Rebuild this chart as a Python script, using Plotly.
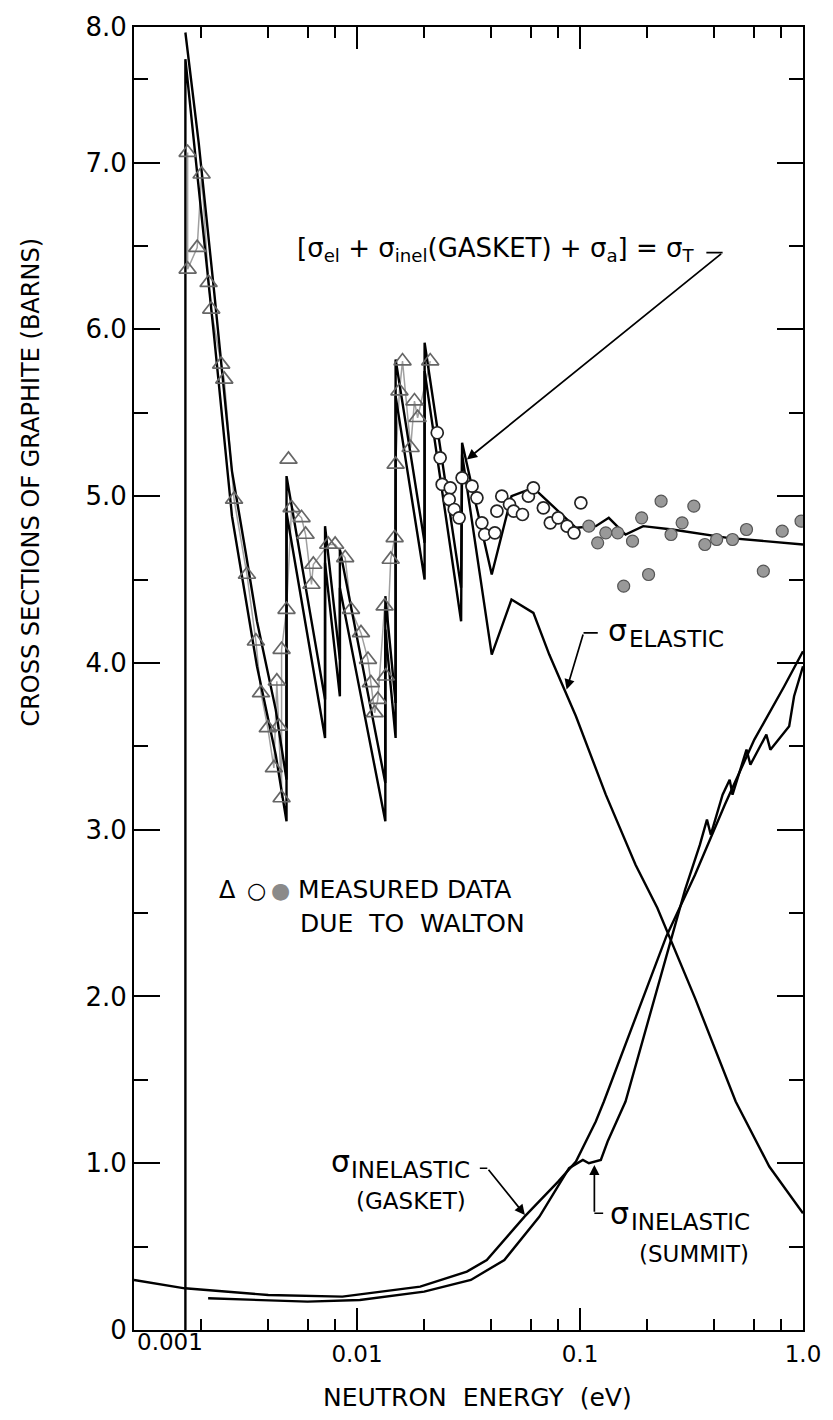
import math
import plotly.graph_objects as go

# ---- theoretical cross sections of graphite (energy in eV, sigma in barns) ----
elastic_E = [0.00170, 0.00170, 0.00195, 0.00229, 0.00275, 0.00318, 0.00356, 0.00432,
             0.00483, 0.00483, 0.00719, 0.00719, 0.00838, 0.00838, 0.0134, 0.0134,
             0.0149, 0.0149, 0.0201, 0.0201, 0.0293, 0.0296, 0.0402, 0.0493, 0.0618,
             0.0728, 0.0959, 0.1305, 0.1774, 0.2223, 0.2537, 0.328, 0.499, 0.706, 1.0]
elastic_s = [0.0, 7.62, 6.85, 5.95, 4.88, 4.38, 3.98, 3.45,
             3.05, 4.90, 3.55, 4.60, 3.80, 4.45, 3.05, 4.20,
             3.55, 5.60, 4.50, 5.75, 4.25, 5.25, 4.05, 4.38, 4.30,
             4.05, 3.68, 3.21, 2.79, 2.53, 2.35, 1.99, 1.37, 0.98, 0.70]

total_E = [0.00170, 0.00195, 0.00229, 0.00275, 0.00318, 0.00356, 0.00432, 0.00483,
           0.00483, 0.00719, 0.00719, 0.00838, 0.00838, 0.0134, 0.0134, 0.0149,
           0.0149, 0.0201, 0.0201, 0.0293, 0.0296, 0.0402, 0.0493, 0.0618, 0.0959,
           0.1177, 0.1346, 0.160, 0.192, 0.259, 0.459, 1.0]
total_s = [7.78, 7.12, 6.22, 5.15, 4.65, 4.25, 3.72, 3.30,
           5.12, 3.78, 4.82, 4.02, 4.68, 3.28, 4.40, 3.76,
           5.82, 4.72, 5.92, 4.45, 5.32, 4.53, 5.00, 5.05, 4.81,
           4.82, 4.87, 4.77, 4.82, 4.80, 4.75, 4.71]

gasket_E = [0.0010, 0.00169, 0.0040, 0.0086, 0.0192, 0.0311, 0.0382, 0.0564, 0.0798,
            0.0959, 0.1177, 0.128, 0.2438, 0.328, 0.446, 0.605, 0.824, 1.0]
gasket_s = [0.30, 0.25, 0.21, 0.20, 0.26, 0.35, 0.42, 0.68, 0.89,
            1.01, 1.25, 1.37, 2.36, 2.73, 3.15, 3.54, 3.86, 4.07]

summit_E = [0.00215, 0.0060, 0.0103, 0.0200, 0.0324, 0.0458, 0.0658, 0.0893, 0.103,
            0.1096, 0.124, 0.133, 0.160, 0.2537, 0.296, 0.345, 0.371, 0.386, 0.436,
            0.469, 0.483, 0.558, 0.581, 0.685, 0.714, 0.867, 0.912, 1.0]
summit_s = [0.19, 0.17, 0.18, 0.23, 0.30, 0.42, 0.68, 0.97, 1.02,
            1.00, 1.02, 1.13, 1.37, 2.32, 2.64, 2.91, 3.06, 2.97, 3.21,
            3.30, 3.21, 3.48, 3.39, 3.57, 3.48, 3.62, 3.80, 3.98]

# ---- measured data due to Walton ----
tri_E = [0.00174, 0.00174, 0.00192, 0.00201, 0.00216, 0.00222, 0.00246, 0.00254,
         0.00281, 0.00321, 0.00352, 0.00371, 0.00398, 0.00424, 0.00437, 0.00446,
         0.00459, 0.00459, 0.00483, 0.00509, 0.00564, 0.00588, 0.00625, 0.00637,
         0.00743, 0.00798, 0.00885, 0.00940, 0.01042, 0.0112, 0.01154, 0.0120,
         0.0124, 0.0133, 0.01346, 0.01416, 0.01475, 0.0149, 0.0155, 0.0160,
         0.0174, 0.0181, 0.0187, 0.0213]
tri_s = [7.06, 6.36, 6.49, 6.93, 6.28, 6.12, 5.79, 5.70,
         4.98, 4.53, 4.13, 3.82, 3.61, 3.37, 3.89, 3.62,
         3.19, 4.08, 4.32, 4.93, 4.87, 4.77, 4.47, 4.59,
         4.71, 4.71, 4.63, 4.32, 4.18, 4.02, 3.88, 3.70,
         3.78, 4.34, 3.92, 4.62, 4.75, 5.19, 5.63, 5.81,
         5.29, 5.57, 5.47, 5.81]
tri_single_E = [0.00493]
tri_single_s = [5.22]

open_E = [0.0229, 0.0236, 0.0241, 0.0262, 0.0259, 0.0273, 0.0287, 0.0296, 0.0328,
          0.0345, 0.0363, 0.0374, 0.0415, 0.0424, 0.0446, 0.0483, 0.0504, 0.0552,
          0.0587, 0.0618, 0.0685, 0.0736, 0.0798, 0.0875, 0.0940, 0.1009]
open_s = [5.38, 5.23, 5.07, 5.05, 4.98, 4.92, 4.87, 5.11, 5.06,
          4.99, 4.84, 4.77, 4.78, 4.91, 5.00, 4.95, 4.91, 4.89,
          5.00, 5.05, 4.93, 4.84, 4.87, 4.82, 4.78, 4.96]

dot_E = [0.1096, 0.120, 0.1305, 0.1476, 0.157, 0.172, 0.189, 0.203, 0.231, 0.256,
         0.287, 0.324, 0.363, 0.410, 0.483, 0.558, 0.664, 0.807, 0.98]
dot_s = [4.82, 4.72, 4.78, 4.78, 4.46, 4.73, 4.87, 4.53, 4.97, 4.77,
         4.84, 4.94, 4.71, 4.74, 4.74, 4.80, 4.55, 4.79, 4.85]

# ---- axes ----
Y_TOP = 7.813
y_tick_vals = [0, 1, 2, 3, 4, 5, 6, 7, Y_TOP]
y_tick_text = ["0", "1.0", "2.0", "3.0", "4.0", "5.0", "6.0", "7.0", "8.0"]
y_minor_vals = [0.5, 1.5, 2.5, 3.5, 4.5, 5.5, 6.5, 7.5]
x_tick_vals = [0.001, 0.01, 0.1, 1.0]
x_tick_text = ["", "0.01", "0.1", "1.0"]
x_minor_vals = [m * d for d in (0.001, 0.01, 0.1) for m in (2, 4, 6, 8)]

W, H = 833, 1420
L, R, T, B = 134, 25, 15, 90
FONT = "DejaVu Sans"
SP = "\u00a0"


def paper(px, py):
    """Pixel position on the page -> paper coordinates of the plot area."""
    return (px - L) / (W - L - R), (H - B - py) / (H - T - B)


fig = go.Figure()

# measured-data connecting line (light)
fig.add_trace(go.Scatter(x=tri_E, y=tri_s, mode="lines",
                         line=dict(color="#a0a0a0", width=1.5), hoverinfo="skip"))

for xs, ys in ((elastic_E, elastic_s), (total_E, total_s),
               (gasket_E, gasket_s), (summit_E, summit_s)):
    fig.add_trace(go.Scatter(x=xs, y=ys, mode="lines",
                             line=dict(color="black", width=2.4)))

fig.add_trace(go.Scatter(x=tri_E + tri_single_E, y=tri_s + tri_single_s, mode="markers",
                         marker=dict(symbol="triangle-up-open", size=15, color="#666666",
                                     line=dict(width=1.7))))
fig.add_trace(go.Scatter(x=open_E, y=open_s, mode="markers",
                         marker=dict(symbol="circle", size=12, color="white",
                                     line=dict(color="#222", width=1.7))))
fig.add_trace(go.Scatter(x=dot_E, y=dot_s, mode="markers",
                         marker=dict(symbol="circle", size=12, color="#999999",
                                     line=dict(color="#555", width=1.2))))

annotations = []


def text_at(px, py, txt, size, anchor="left", angle=0, color="black"):
    x, y = paper(px, py)
    annotations.append(dict(x=x, y=y, xref="paper", yref="paper", text=txt,
                            showarrow=False, xanchor=anchor, yanchor="middle",
                            textangle=angle, font=dict(family=FONT, size=size, color=color)))


def sigma_label(px, py, sub, sub_size=23):
    """A large sigma followed by a lowered subscript word."""
    text_at(px, py, "σ", 30)
    text_at(px + 21, py + 9, sub, sub_size)


def leader(e0, s0, e1, s1, head=True):
    """Line from (e0, s0) to (e1, s1) in data space, arrowhead at the second point."""
    annotations.append(dict(x=math.log10(e1), y=s1, ax=math.log10(e0), ay=s0,
                            xref="x", yref="y", axref="x", ayref="y", text="",
                            showarrow=True, arrowhead=2 if head else 0, arrowsize=1.2,
                            arrowwidth=1.7, arrowcolor="black"))


text_at(296, 240, "[σ<sub>el</sub> + σ<sub>inel</sub>(GASKET) + σ<sub>a</sub>] = σ<sub>T</sub>", 26)
leader(0.363, 6.46, 0.436, 6.46, head=False)
leader(0.436, 6.46, 0.0311, 5.22)

sigma_label(610, 624, "ELASTIC")
leader(0.122, 4.18, 0.1037, 4.18, head=False)
leader(0.1037, 4.18, 0.0871, 3.84)

sigma_label(330, 1160, "INELASTIC")
text_at(356, 1200, "(GASKET)", 23)
leader(0.0350, 0.97, 0.0384, 0.97, head=False)
leader(0.0384, 0.97, 0.0566, 0.69)

sigma_label(612, 1212, "INELASTIC")
text_at(641, 1253, "(SUMMIT)", 23)
leader(0.129, 0.70, 0.116, 0.70, head=False)
leader(0.116, 0.70, 0.116, 0.99)

text_at(218, 886, "Δ", 24)
text_at(246, 886, "○", 22)
text_at(270, 886, "●", 22, color="#8a8a8a")
text_at(297, 885, "MEASURED DATA", 25)
text_at(299, 920, f"DUE{SP}{SP}TO{SP}{SP}WALTON", 25)

text_at(170, 1342, "0.001", 23, anchor="center")
text_at(480, 1398, f"NEUTRON{SP}{SP}ENERGY{SP}{SP}(eV)", 25, anchor="center")
text_at(30, 474, "CROSS SECTIONS OF GRAPHITE (BARNS)", 24, anchor="center", angle=-90)

fig.update_layout(
    width=W, height=H, margin=dict(l=L, r=R, t=T, b=B),
    paper_bgcolor="white", plot_bgcolor="white", showlegend=False,
    font=dict(family=FONT, color="black"),
    annotations=annotations,
)
fig.update_xaxes(type="log", range=[-3, 0], tickvals=x_tick_vals, ticktext=x_tick_text,
                 ticks="inside", ticklen=22, tickwidth=2, tickcolor="black",
                 showline=True, linewidth=2, linecolor="black", mirror="ticks",
                 showgrid=False, zeroline=False, tickfont=dict(size=23),
                 ticklabelstandoff=2,
                 minor=dict(tickvals=x_minor_vals, ticks="inside", ticklen=11,
                            tickwidth=2, tickcolor="black", showgrid=False))
fig.update_yaxes(range=[0, Y_TOP], tickvals=y_tick_vals, ticktext=y_tick_text,
                 ticks="inside", ticklen=26, tickwidth=2, tickcolor="black",
                 showline=True, linewidth=2, linecolor="black", mirror="ticks",
                 showgrid=False, zeroline=False, tickfont=dict(size=26),
                 minor=dict(tickvals=y_minor_vals, ticks="inside", ticklen=14,
                            tickwidth=2, tickcolor="black", showgrid=False))

fig.write_html("out.html")
